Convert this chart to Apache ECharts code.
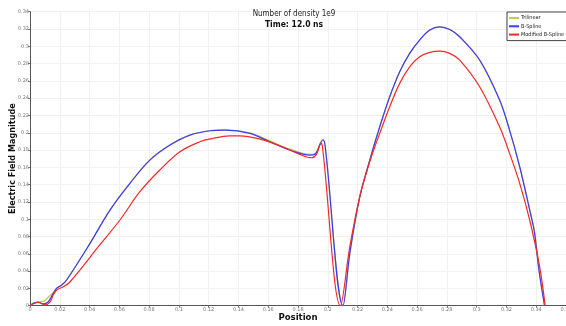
<!DOCTYPE html>
<html>
<head>
<meta charset="utf-8">
<script src="https://cdn.jsdelivr.net/npm/echarts@6/dist/echarts.min.js"></script>
<style>html,body{margin:0;padding:0;background:#fff;}#c{width:566px;height:326px;}</style>
</head>
<body>
<div id="c"></div>
<script>
// Series names
const seriesNames = ['Trilinear', 'B-Spline', 'Modified B-Spline'];

// Trilinear (position, value)
const triX = [0, 0.0022, 0.0056, 0.0089, 0.0123, 0.0156, 0.0179, 0.0213, 0.0246, 0.0403, 0.0537, 0.0671, 0.0805, 0.094, 0.1074, 0.1208, 0.1309, 0.1477, 0.1611, 0.1745, 0.1879, 0.1913, 0.1968, 0.1983, 0.2102, 0.2148, 0.2215, 0.2282, 0.2349, 0.2416, 0.2483, 0.255, 0.2617, 0.2685, 0.2752, 0.2819, 0.2886, 0.302, 0.3154, 0.3221, 0.3289, 0.3356, 0.3389, 0.3418, 0.3456];
const triY = [0, 0.003, 0.0045, 0.005, 0.01, 0.015, 0.0205, 0.024, 0.0297, 0.0721, 0.1106, 0.1415, 0.1684, 0.1858, 0.1973, 0.2025, 0.2033, 0.1998, 0.1905, 0.181, 0.175, 0.1758, 0.1925, 0.1838, 0, 0.0606, 0.126, 0.1684, 0.2069, 0.2416, 0.2705, 0.2918, 0.3072, 0.3187, 0.3225, 0.3195, 0.311, 0.2841, 0.2378, 0.2031, 0.1607, 0.112, 0.086, 0.0425, 0];

// B-Spline (position, value)
const bsX = [0, 0.0022, 0.0056, 0.0089, 0.0123, 0.0156, 0.0179, 0.0213, 0.0246, 0.0403, 0.0537, 0.0671, 0.0805, 0.094, 0.1074, 0.1208, 0.1309, 0.1477, 0.1611, 0.1745, 0.1879, 0.1913, 0.1968, 0.1983, 0.2102, 0.2148, 0.2215, 0.2282, 0.2349, 0.2416, 0.2483, 0.255, 0.2617, 0.2685, 0.2752, 0.2819, 0.2886, 0.302, 0.3154, 0.3221, 0.3289, 0.3356, 0.3389, 0.3418, 0.3456];
const bsY = [0, 0.0028, 0.0039, 0.002, 0.0046, 0.0143, 0.0201, 0.0239, 0.0297, 0.0721, 0.1106, 0.1415, 0.1684, 0.1858, 0.1973, 0.2023, 0.2031, 0.1993, 0.1896, 0.18, 0.1742, 0.175, 0.1916, 0.1838, 0, 0.0606, 0.126, 0.1684, 0.2069, 0.2416, 0.2705, 0.2918, 0.3072, 0.3187, 0.3225, 0.3195, 0.311, 0.2841, 0.2378, 0.2031, 0.1607, 0.1106, 0.0837, 0.0413, 0];

// Modified B-Spline (position, value)
const mbsX = [0, 0.002, 0.0056, 0.0101, 0.0134, 0.0156, 0.0179, 0.0221, 0.0268, 0.047, 0.0604, 0.0738, 0.0872, 0.1007, 0.1141, 0.1208, 0.1342, 0.1409, 0.1544, 0.1678, 0.1812, 0.1891, 0.1924, 0.1953, 0.1965, 0.2085, 0.2148, 0.2215, 0.2282, 0.2349, 0.2416, 0.2483, 0.255, 0.2617, 0.2685, 0.2752, 0.2819, 0.2886, 0.302, 0.3154, 0.3221, 0.3289, 0.3356, 0.3423, 0.346];
const mbsY = [0, 0.002, 0.004, 0.001, 0.004, 0.0124, 0.0182, 0.0216, 0.0274, 0.0705, 0.0991, 0.1318, 0.1569, 0.178, 0.1896, 0.1927, 0.1965, 0.1965, 0.1927, 0.185, 0.175, 0.1711, 0.175, 0.1881, 0.183, 0, 0.0682, 0.126, 0.1665, 0.1993, 0.2301, 0.2571, 0.2763, 0.2879, 0.293, 0.2945, 0.2918, 0.284, 0.2532, 0.2069, 0.1762, 0.1415, 0.0991, 0.0451, 0];

// Axis ticks
const xTicks = { min: 0, max: 0.36, interval: 0.02 };
const yTicks = { min: 0, max: 0.34, interval: 0.02 };

const pairs = (xs, ys) => xs.map((x, i) => [x, ys[i]]);
const colors = ['#c8c84e', '#3c3cf8', '#f52828'];
const narrow = '"Liberation Sans Narrow", "DejaVu Sans Condensed", sans-serif';

const chart = echarts.init(document.getElementById('c'), null, { renderer: 'canvas' });
chart.setOption({
  animation: false,
  backgroundColor: '#ffffff',
  title: [
    { text: 'Number of density 1e9', left: 294, top: 9.5, textAlign: 'center', padding: 0,
      textStyle: { fontFamily: narrow, fontSize: 8, fontWeight: 'normal', color: '#222' } },
    { text: 'Time: 12.0 ns', left: 294, top: 20.5, textAlign: 'center', padding: 0,
      textStyle: { fontFamily: narrow, fontSize: 8.5, fontWeight: 'bold', color: '#111' } }
  ],
  legend: {
    orient: 'vertical', left: 507, top: 12,
    data: seriesNames,
    icon: 'rect', itemWidth: 10, itemHeight: 2, itemGap: 2.3,
    padding: [3, 3, 3, 2],
    borderColor: '#444', borderWidth: 1, backgroundColor: '#fff',
    textStyle: { fontFamily: narrow, fontSize: 5.5, color: '#222', padding: [0, 0, 0, -3], lineHeight: 6 }
  },
  grid: { left: 30, right: 0, top: 11.7, bottom: 20.3, outerBoundsMode: 'none', containLabel: false },
  xAxis: {
    type: 'value', min: xTicks.min, max: xTicks.max, interval: xTicks.interval,
    name: 'Position', nameLocation: 'middle', nameGap: 7, nameMoveOverlap: false,
    nameTextStyle: { fontFamily: narrow, fontSize: 9.5, fontWeight: 'bold', color: '#111' },
    axisLine: { show: true, lineStyle: { color: '#555', width: 1 } },
    axisTick: { show: true, length: 2, lineStyle: { color: '#777' } },
    axisLabel: { fontSize: 5, color: '#777', margin: 2, fontFamily: 'DejaVu Sans', showMaxLabel: true },
    splitLine: { show: true, lineStyle: { color: '#f1f1f1', width: 1 } }
  },
  yAxis: {
    type: 'value', min: yTicks.min, max: yTicks.max, interval: yTicks.interval,
    name: 'Electric Field Magnitude', nameLocation: 'middle', nameGap: 13, nameRotate: 90, nameMoveOverlap: false,
    nameTextStyle: { fontFamily: narrow, fontSize: 9, fontWeight: 'bold', color: '#111' },
    axisLine: { show: true, lineStyle: { color: '#555', width: 1 } },
    axisTick: { show: true, length: 2, lineStyle: { color: '#777' } },
    axisLabel: { fontSize: 5, color: '#777', margin: 1, fontFamily: 'DejaVu Sans' },
    splitLine: { show: true, lineStyle: { color: '#f1f1f1', width: 1 } }
  },
  series: [
    { name: seriesNames[0], type: 'line', data: pairs(triX, triY), symbol: 'none', smooth: 0.35,
      lineStyle: { color: colors[0], width: 1.3 }, itemStyle: { color: colors[0] } },
    { name: seriesNames[1], type: 'line', data: pairs(bsX, bsY), symbol: 'none', smooth: 0.35,
      lineStyle: { color: colors[1], width: 1.2 }, itemStyle: { color: colors[1] } },
    { name: seriesNames[2], type: 'line', data: pairs(mbsX, mbsY), symbol: 'none', smooth: 0.35,
      lineStyle: { color: colors[2], width: 1.2 }, itemStyle: { color: colors[2] } }
  ]
});
</script>
</body>
</html>
